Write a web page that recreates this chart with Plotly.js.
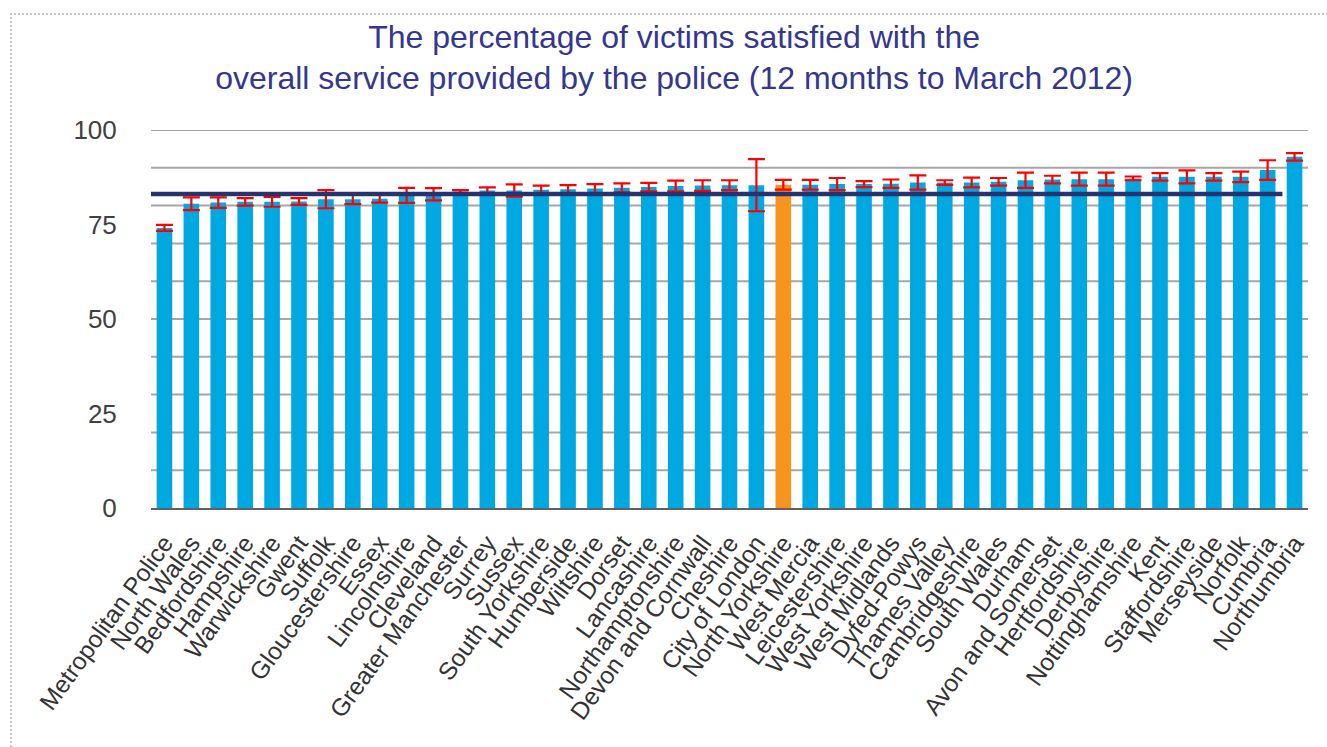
<!DOCTYPE html>
<html>
<head>
<meta charset="utf-8">
<script src="https://cdn.plot.ly/plotly-3.0.1.min.js"></script>
<style>
  html, body { margin: 0; padding: 0; background: #fff; overflow: hidden; }
  #frame { position: absolute; left: 10px; top: 13px; width: 1400px; height: 800px;
           border-top: 2px dotted #c8c8c8; border-left: 2px dotted #c8c8c8; }
  #chart { position: absolute; left: 0; top: 0; width: 1327px; height: 747px; }
</style>
</head>
<body>
<div id="frame"></div>
<div id="chart"></div>
<script>
const forces = ["Metropolitan Police","North Wales","Bedfordshire","Hampshire","Warwickshire","Gwent","Suffolk","Gloucestershire","Essex","Lincolnshire","Cleveland","Greater Manchester","Surrey","Sussex","South Yorkshire","Humberside","Wiltshire","Dorset","Lancashire","Northamptonshire","Devon and Cornwall","Cheshire","City of London","North Yorkshire","West Mercia","Leicestershire","West Yorkshire","West Midlands","Dyfed-Powys","Thames Valley","Cambridgeshire","South Wales","Durham","Avon and Somerset","Hertfordshire","Derbyshire","Nottinghamshire","Kent","Staffordshire","Merseyside","Norfolk","Cumbria","Northumbria"];
const satisfied = [74.1,80.5,80.8,81.0,81.0,81.1,81.7,81.7,81.8,82.7,83.0,83.7,84.0,84.0,84.2,84.3,84.5,84.7,84.9,85.2,85.3,85.4,85.4,85.5,85.5,85.7,85.7,85.8,86.1,86.1,86.1,86.3,86.7,86.9,87.0,87.0,87.2,87.6,87.6,87.6,87.6,89.4,92.9];
const confInterval = [0.8,1.7,1.4,1.0,1.3,0.9,2.4,1.3,1.0,2.0,1.6,0.4,0.8,1.6,1.1,1.1,1.2,1.2,1.1,1.4,1.4,1.3,6.9,1.3,1.3,1.6,0.8,1.1,1.9,0.6,1.3,1.0,2.0,1.0,1.7,1.7,0.5,1.0,1.7,1.0,1.4,2.6,1.0];
const highlighted = "North Yorkshire";
const nationalAverage = 83.1;
const yTickVals = [0,25,50,75,100];
const gridVals = [10,20,30,40,50,60,70,80,90,100];

const barColors = forces.map(f => f === highlighted ? "#F7941D" : "#00A8E1");

const trace = {
  type: "bar",
  x: forces,
  y: satisfied,
  marker: { color: barColors },
  error_y: { type: "data", array: confInterval, visible: true, color: "#FF0000", thickness: 2.2, width: 8.5 },
  hoverinfo: "x+y"
};

const shapes = gridVals.map(v => ({
  type: "line", xref: "paper", x0: 0, x1: 1, yref: "y", y0: v, y1: v,
  line: { color: "#A6A6A6", width: 2 }, layer: "below"
}));
shapes.push({
  type: "line", xref: "x", x0: -0.5, x1: forces.length - 1.45, yref: "y",
  y0: nationalAverage, y1: nationalAverage,
  line: { color: "#25336F", width: 4.5 }, layer: "above"
});

const layout = {
  width: 1327, height: 747,
  margin: { l: 151, r: 19, t: 130, b: 239 },
  paper_bgcolor: "rgba(0,0,0,0)",
  plot_bgcolor: "rgba(0,0,0,0)",
  font: { family: "Liberation Sans, Arial, sans-serif", color: "#404040" },
  title: {
    text: "The percentage of victims satisfied with the<br>overall service provided by the police (12 months to March 2012)",
    font: { size: 32, color: "#34378F", family: "Liberation Sans, Arial, sans-serif" },
    x: 0.508, xref: "container", xanchor: "center",
    y: 0.936, yref: "container", yanchor: "top"
  },
  bargap: 0.42,
  showlegend: false,
  xaxis: {
    type: "category",
    tickmode: "array",
    tickvals: forces,
    ticktext: forces,
    tickangle: -54,
    tickfont: { size: 24.5, color: "#333333" },
    ticks: "outside", ticklen: 9, tickcolor: "rgba(0,0,0,0)",
    showgrid: false, zeroline: false,
    showline: true, linecolor: "#606060", linewidth: 2,
    range: [-0.5, forces.length - 0.5]
  },
  yaxis: {
    range: [0, 100],
    tickvals: yTickVals,
    ticktext: yTickVals.map(String),
    tickfont: { size: 26, color: "#404040" },
    ticks: "outside", ticklen: 28, tickcolor: "rgba(0,0,0,0)",
    showgrid: false, zeroline: false, showline: false
  },
  shapes: shapes
};

Plotly.newPlot("chart", [trace], layout, { displayModeBar: false, staticPlot: true });
</script>
</body>
</html>
